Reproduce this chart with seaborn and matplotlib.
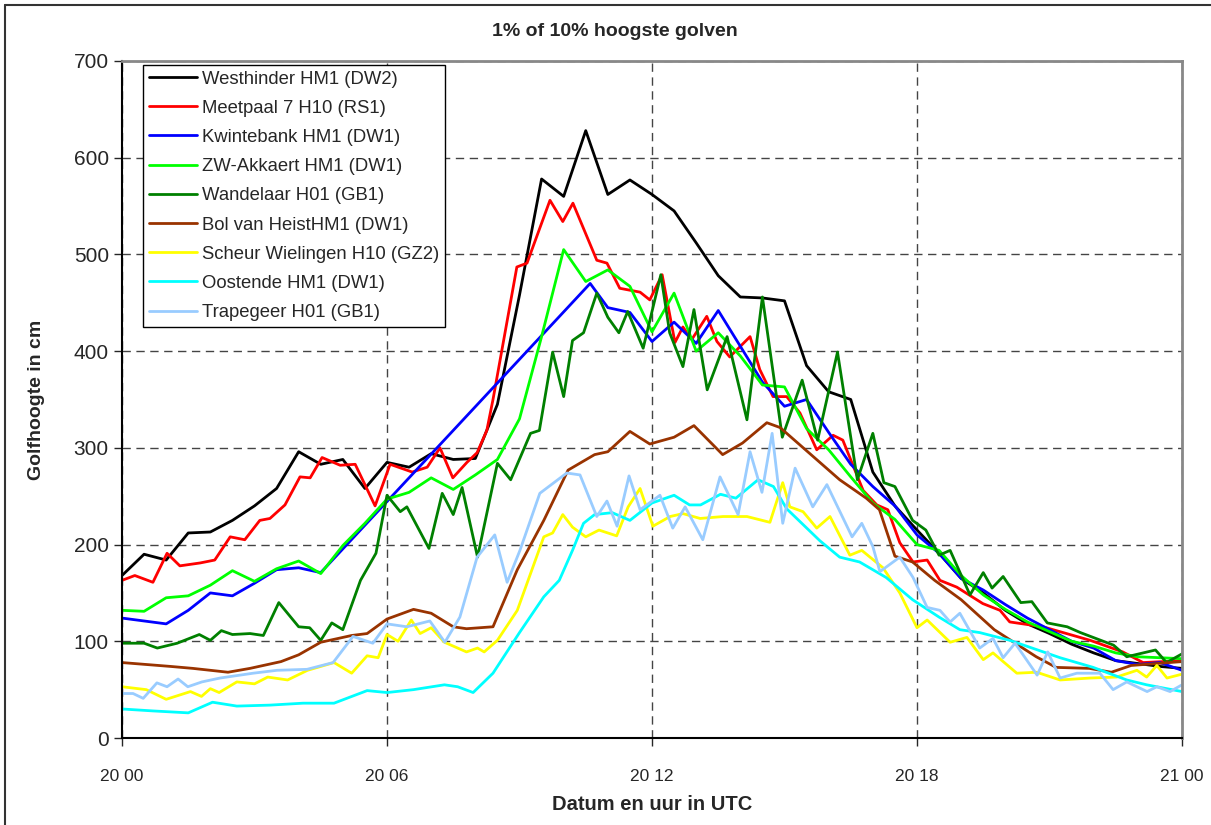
import numpy as np
import pandas as pd
import matplotlib
matplotlib.use("Agg")
import matplotlib.pyplot as plt
import seaborn as sns
from matplotlib.lines import Line2D

# golfhoogte in cm per station, uren sinds 20 00 UTC
stations = ["Westhinder HM1 (DW2)", "Meetpaal 7 H10 (RS1)", "Kwintebank HM1 (DW1)",
            "ZW-Akkaert HM1 (DW1)", "Wandelaar H01 (GB1)", "Bol van HeistHM1 (DW1)",
            "Scheur Wielingen H10 (GZ2)", "Oostende HM1 (DW1)", "Trapegeer H01 (GB1)"]
colors = ["#000000", "#FF0000", "#0000FF", "#00FF00", "#008000",
          "#993300", "#FFFF00", "#00FFFF", "#99CCFF"]

half_hours = np.arange(0, 24.5, 0.5)

westhinder = [168, 190, 184, 212, 213, 225, 240, 258, 296, 283, 288, 258, 285, 280, 294, 288, 289,
              345, 458, 578, 560, 628, 562, 577, 562, 545, 512, 478, 456, 455, 452, 385, 358, 350,
              275, 240, 215, 191, 165, 150, 132, 118, 108, 97, 88, 80, 77, 74, 72]

meetpaal_h = [0, 0.29, 0.7, 1.02, 1.31, 1.77, 2.1, 2.45, 2.78, 3.12, 3.35, 3.69, 4.03, 4.26, 4.53,
              4.94, 5.28, 5.73, 6.07, 6.57, 6.91, 7.2, 7.49, 7.81, 8.04, 8.26, 8.4, 8.94, 9.17,
              9.69, 9.98, 10.21, 10.75, 10.98, 11.27, 11.73, 11.95, 12.23, 12.52, 12.7, 12.9,
              13.24, 13.47, 13.76, 14.22, 14.44, 14.74, 15.05, 15.35, 15.73, 16.1, 16.32, 16.78,
              17.09, 17.34, 17.61, 17.91, 18.23, 18.52, 18.9, 19.49, 19.88, 20.1, 20.85, 21.92,
              22.66, 23.12, 24]
meetpaal = [163, 168, 161, 191, 178, 181, 184, 208, 205, 225, 227, 241, 270, 269, 290,
            282, 283, 240, 283, 275, 280, 300, 269, 285, 295, 318, 350, 487, 491,
            556, 534, 553, 494, 491, 465, 461, 453, 479, 409, 425, 412,
            436, 410, 394, 415, 381, 353, 353, 336, 298, 313, 308, 256,
            241, 236, 202, 182, 184, 163, 156, 139, 132, 120, 115, 101,
            89, 78, 80]

kwintebank_h = [0, 0.5, 1, 1.5, 2, 2.5, 3, 3.5, 4, 4.5, 10.6, 11, 11.5, 12, 12.5, 13, 13.5, 14,
                14.5, 15, 15.5, 16, 16.5, 17, 17.5, 18, 18.5, 19, 19.5, 20, 20.5, 21, 21.5, 22,
                22.5, 23, 23.5, 24]
kwintebank = [124, 121, 118, 132, 150, 147, 160, 174, 176, 171, 470, 445, 440, 410, 430, 408, 442,
              405, 368, 343, 350, 316, 283, 260, 240, 210, 191, 165, 153, 138, 124, 112, 100, 93,
              80, 76, 78, 70]

akkaert = [132, 131, 145, 147, 158, 173, 162, 175, 183, 170, 199, 222, 247, 254, 269, 257, 272,
           288, 330, 415, 505, 472, 484, 467, 420, 460, 400, 419, 395, 365, 363, 320, 298, 270,
           243, 226, 200, 194, 168, 148, 133, 120, 110, 100, 95, 88, 84, 83, 82]

wandelaar_h = [0, 0.5, 0.8, 1.25, 1.75, 2.0, 2.25, 2.5, 2.9, 3.2, 3.55, 4.0, 4.25, 4.5, 4.75, 5.0,
               5.4, 5.75, 6.0, 6.3, 6.45, 6.95, 7.25, 7.5, 7.7, 8.05, 8.5, 8.8, 9.25, 9.45, 9.75,
               10.0, 10.2, 10.45, 10.75, 11.0, 11.25, 11.45, 11.8, 12.2, 12.4, 12.7, 12.95, 13.25,
               13.7, 14.15, 14.5, 14.95, 15.4, 15.75, 16.2, 16.65, 17.0, 17.25, 17.5, 17.9, 18.2,
               18.5, 18.75, 19.2, 19.5, 19.7, 19.95, 20.35, 20.6, 20.95, 21.4, 21.7, 22.45, 22.75,
               23.4, 23.65, 24]
wandelaar = [98, 98, 93, 98, 107, 101, 111, 107, 108, 106, 140, 115, 114, 101, 119, 112,
             163, 191, 251, 234, 239, 196, 253, 231, 259, 187, 284, 267, 315, 318, 399,
             353, 411, 419, 460, 435, 419, 441, 403, 479, 419, 384, 443, 360,
             415, 329, 456, 311, 370, 308, 399, 267, 315, 264, 260, 225, 215,
             189, 194, 148, 171, 155, 167, 140, 141, 119, 115, 109, 96, 84,
             91, 78, 87]

heist_h = [0, 1.1, 1.6, 2.4, 2.9, 3.6, 4.0, 4.5, 5.2, 5.55, 6.0, 6.6, 7.0, 7.5, 7.8, 8.4, 8.95,
           9.55, 10.1, 10.7, 11.0, 11.5, 11.95, 12.5, 12.95, 13.6, 14.05, 14.6, 14.9, 15.65,
           16.25, 16.85, 17.15, 17.5, 17.9, 18.4, 19.0, 19.75, 20.7, 21.15, 21.9, 22.4, 22.85, 24]
heist = [78, 74, 72, 68, 72, 79, 86, 99, 106, 108, 123, 133, 129, 115, 113, 115, 174,
         225, 277, 293, 296, 317, 304, 311, 323, 293, 305, 326, 321, 291,
         267, 248, 236, 188, 182, 163, 143, 112, 84, 73, 72, 68, 75, 79]

wielingen_h = [0, 0.55, 1.0, 1.55, 1.8, 2.0, 2.2, 2.6, 3.0, 3.3, 3.75, 4.2, 4.8, 5.2, 5.55, 5.8,
               6.0, 6.25, 6.55, 6.75, 7.0, 7.3, 7.8, 8.05, 8.2, 8.5, 8.95, 9.55, 9.75, 9.98, 10.2,
               10.5, 10.8, 11.2, 11.46, 11.73, 12.02, 12.41, 12.7, 13.09, 13.61, 14.15, 14.67,
               14.96, 15.12, 15.42, 15.73, 16.03, 16.48, 16.75, 17.23, 17.61, 18.0, 18.23, 18.75,
               19.13, 19.5, 19.72, 20.26, 20.71, 21.24, 21.92, 22.52, 22.98, 23.2, 23.43, 23.66, 24]
wielingen = [53, 50, 40, 48, 43, 51, 47, 58, 56, 63, 60, 70, 78, 67, 85, 83,
             107, 100, 122, 108, 114, 99, 89, 93, 89, 101, 132, 208, 212, 231, 218,
             208, 215, 209, 239, 258, 219, 229, 232, 227, 229, 229, 223,
             264, 239, 234, 217, 229, 189, 194, 176, 150, 114, 122, 99,
             104, 81, 88, 67, 68, 60, 62, 63, 70, 63, 75, 62, 66]

oostende_h = [0, 0.7, 1.5, 2.05, 2.6, 3.35, 4.1, 4.8, 5.55, 6.0, 6.6, 7.3, 7.6, 7.95, 8.4, 9.0,
              9.55, 9.9, 10.2, 10.45, 10.7, 11.1, 11.5, 12.0, 12.5, 12.85, 13.1, 13.55, 13.9,
              14.4, 14.75, 15.05, 15.8, 16.25, 16.7, 17.3, 17.9, 18.5, 18.97, 19.42, 20.1,
              21.24, 21.99, 22.75, 23.2, 24]
oostende = [30, 28, 26, 37, 33, 34, 36, 36, 49, 47, 50, 55, 53, 47, 67, 109,
            146, 163, 194, 222, 231, 233, 225, 243, 251, 241, 241, 252, 248,
            267, 260, 237, 204, 187, 182, 166, 143, 125, 112, 109, 101,
            83, 73, 60, 55, 48]

trapegeer_h = [0, 0.25, 0.48, 0.79, 1.02, 1.27, 1.49, 1.81, 2.22, 2.97, 3.51, 4.19, 4.78, 5.23,
               5.68, 6.0, 6.45, 6.97, 7.31, 7.65, 8.04, 8.44, 8.72, 9.01, 9.46, 10.07, 10.37,
               10.75, 10.98, 11.21, 11.48, 11.73, 12.18, 12.47, 12.75, 13.15, 13.54, 13.95,
               14.22, 14.49, 14.72, 14.96, 15.24, 15.64, 15.96, 16.53, 16.75, 17.0, 17.16,
               17.61, 17.91, 18.23, 18.52, 18.75, 18.97, 19.42, 19.72, 19.95, 20.22, 20.72,
               20.96, 21.24, 21.62, 22.14, 22.44, 22.75, 23.21, 23.43, 23.73, 24]
trapegeer = [46, 46, 41, 57, 53, 61, 53, 58, 62, 67, 70, 71, 78, 105,
             98, 118, 115, 121, 99, 125, 187, 210, 161, 194, 253, 274, 272,
             229, 245, 219, 271, 236, 251, 217, 239, 205, 270, 231,
             296, 254, 315, 222, 279, 239, 262, 208, 222, 198, 172,
             187, 166, 135, 132, 120, 129, 93, 103, 83, 98, 65,
             89, 62, 67, 67, 50, 58, 48, 53, 48, 55]

x_ticks = [0, 6, 12, 18, 24]
x_labels = ["20 00", "20 06", "20 12", "20 18", "21 00"]

series = [(half_hours, westhinder), (meetpaal_h, meetpaal), (kwintebank_h, kwintebank),
          (half_hours, akkaert), (wandelaar_h, wandelaar), (heist_h, heist),
          (wielingen_h, wielingen), (oostende_h, oostende), (trapegeer_h, trapegeer)]

frames = []
for name, (h, v) in zip(stations, series):
    frames.append(pd.DataFrame({"uur": h, "cm": v, "station": name}))
df = pd.concat(frames, ignore_index=True)

sns.set_style("white")
plt.rcParams["font.family"] = ["Liberation Sans", "DejaVu Sans"]

fig = plt.figure(figsize=(12.11, 8.25), dpi=100)
ax = fig.add_axes([122 / 1211, 1 - 738 / 825, 1060 / 1211, 677 / 825])

sns.lineplot(data=df, x="uur", y="cm", hue="station", hue_order=stations,
             palette=dict(zip(stations, colors)), estimator=None, sort=True,
             linewidth=2, ax=ax)

ax.set_xlim(0, 24)
ax.set_ylim(0, 700)
ax.set_xticks(x_ticks)
ax.set_xticklabels(x_labels, fontsize=12.5)
ax.set_yticks(range(0, 701, 100))
ax.tick_params(axis="y", labelsize=15, direction="out", length=6, width=1, left=True)
ax.tick_params(axis="x", direction="out", length=6, width=1, bottom=True, pad=16)
ax.grid(True, linestyle=(0, (6, 4)), color="#444444", linewidth=1)

for side in ["left", "bottom"]:
    ax.spines[side].set_color("black")
    ax.spines[side].set_linewidth(1.5)
for side in ["top", "right"]:
    ax.spines[side].set_color("#888888")
    ax.spines[side].set_linewidth(2)

ax.set_xlabel("Datum en uur in UTC", fontsize=14.5, fontweight="bold", labelpad=8)
ax.set_ylabel("Golfhoogte in cm", fontsize=14, fontweight="bold", labelpad=21)
fig.text(615 / 1211, 1 - 32 / 825, "1% of 10% hoogste golven", ha="center", va="center",
         fontsize=14, fontweight="bold")

handles, labels = ax.get_legend_handles_labels()
leg = ax.legend(handles, labels, loc="upper left", bbox_to_anchor=(21 / 1060, 673 / 677),
                borderaxespad=0, fontsize=13.3, frameon=True, fancybox=False,
                edgecolor="black", framealpha=1, handlelength=2.6, handletextpad=0.3,
                labelspacing=0.66, borderpad=0.3)
leg.get_frame().set_linewidth(1)

# rand rond de grafiek
fig.add_artist(Line2D([5 / 1211, 5 / 1211], [0, 1 - 5 / 825], color="#333333", linewidth=1.5))
fig.add_artist(Line2D([5 / 1211, 1], [1 - 5 / 825, 1 - 5 / 825], color="#333333", linewidth=1.5))

fig.savefig("out.png", dpi=100)
